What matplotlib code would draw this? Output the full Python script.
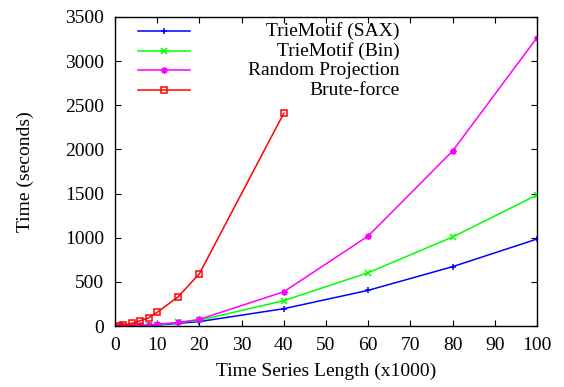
import matplotlib
matplotlib.use("Agg")
import matplotlib.pyplot as plt

plt.rcParams['font.family'] = ['Liberation Serif', 'DejaVu Serif']
plt.rcParams['font.size'] = 14

# time series length (x1000)
length = [1, 2, 4, 6, 8, 10, 15, 20, 40, 60, 80, 100]
brute_len = [1, 2, 4, 6, 8, 10, 15, 20, 40]

sax = [1, 2, 3, 5, 7, 10, 30, 50, 196, 404, 672, 985]
binm = [1, 2, 4, 6, 9, 13, 40, 65, 287, 604, 1008, 1484]
rproj = [1, 2, 4, 8, 13, 20, 40, 75, 388, 1019, 1982, 3265]
brute = [3, 8, 31, 60, 94, 155, 332, 592, 2410]

labels = ['TrieMotif (SAX)', 'TrieMotif (Bin)', 'Random Projection', 'Brute-force']
colors = ['#0000ff', '#00ff00', '#ff00ff', '#ff0000']
markers = ['+', 'x', (8, 2, 0), 's']
sizes = [5, 4, 4.5, 5]

fig = plt.figure(figsize=(5.64, 3.87), dpi=100)
ax = fig.add_axes([0.2039, 0.1576, 0.9521 - 0.2039, 0.9561 - 0.1576])

xs = [length, length, length, brute_len]
ys = [sax, binm, rproj, brute]
for x, y, c, m, ms in zip(xs, ys, colors, markers, sizes):
    mfc = 'none' if m == 's' else c
    ax.plot(x, y, color=c, lw=1.1, marker=m, ms=ms, mew=1.1, mfc=mfc)

ax.set_xlim(0, 100)
ax.set_ylim(0, 3500)
ax.set_xticks(range(0, 101, 10))
ax.set_yticks(range(0, 3501, 500))
ax.tick_params(direction='in', top=True, right=True, length=4.5, width=0.8, pad=8)
for s in ax.spines.values():
    s.set_linewidth(1.0)

ax.set_xlabel('Time Series Length (x1000)', labelpad=6)
ax.set_ylabel('Time (seconds)', labelpad=22)

# gnuplot-style key: sample on the left, right-aligned text
key_y = [0.954, 0.889, 0.828, 0.763]
for ky, lab, c, m, ms in zip(key_y, labels, colors, markers, sizes):
    mfc = 'none' if m == 's' else c
    ax.plot([0.0545, 0.1777], [ky, ky], color=c, lw=1.1, transform=ax.transAxes, clip_on=False)
    ax.plot([0.116], [ky], color=c, marker=m, ms=ms, mew=1.1, mfc=mfc,
            transform=ax.transAxes, clip_on=False)
    ax.text(0.675, ky, lab, ha='right', va='center', transform=ax.transAxes)

fig.savefig('out.png', dpi=100)
